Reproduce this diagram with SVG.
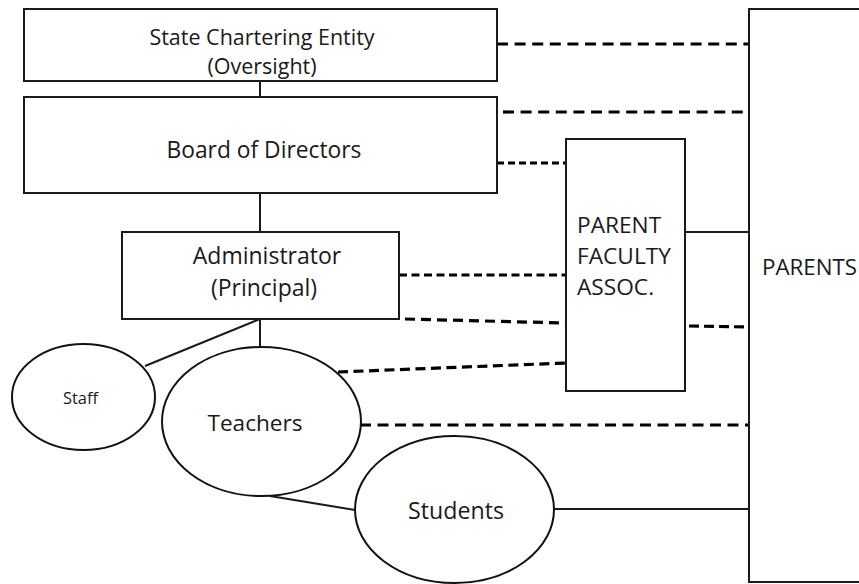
<svg xmlns="http://www.w3.org/2000/svg" width="859" height="584" viewBox="0 0 859 584">
<style>
.box{fill:#fff;stroke:#1a1a1a;stroke-width:2}
.ell{fill:#fff;stroke:#111;stroke-width:2}
.solid{stroke:#1a1a1a;stroke-width:2;fill:none}
.dash{stroke:#000;stroke-width:3.2;fill:none}
text{font-family:"Open Sans","Liberation Sans",sans-serif;fill:#1a1a1a}
.c{text-anchor:middle}
</style>
<rect width="859" height="584" fill="#fff"/>
<g id="connectors">
<line class="solid" x1="260" y1="81" x2="260" y2="97"/>
<line class="solid" x1="260" y1="193" x2="260" y2="232"/>
<line class="solid" x1="260" y1="319" x2="260" y2="347"/>
<line class="solid" x1="260" y1="319" x2="145" y2="366"/>
<line class="solid" x1="270" y1="496" x2="355" y2="510"/>
<line class="solid" x1="685" y1="232" x2="749" y2="232"/>
<line class="solid" x1="554" y1="509" x2="749" y2="509"/>
<line class="dash" x1="497" y1="44" x2="749" y2="44" stroke-dasharray="11 6.6"/>
<line class="dash" x1="503" y1="112" x2="749" y2="112" stroke-dasharray="11 6.6"/>
<line class="dash" x1="497" y1="163" x2="566" y2="163" stroke-dasharray="7 4"/>
<line class="dash" x1="399" y1="275" x2="566" y2="275" stroke-dasharray="8 4.5"/>
<line class="dash" x1="405" y1="319" x2="566" y2="323" stroke-dasharray="10 6"/>
<line class="dash" x1="689" y1="326" x2="749" y2="327" stroke-dasharray="10 5"/>
<line class="dash" x1="338" y1="372" x2="566" y2="363" stroke-dasharray="10 5.5"/>
<line class="dash" x1="360" y1="425" x2="749" y2="425" stroke-dasharray="11 6.5"/>
</g>
<g id="state">
<rect class="box" x="24" y="9" width="473" height="72"/>
<text class="c" x="262" y="45" font-size="21.5">State Chartering Entity</text>
<text class="c" x="262" y="74" font-size="21.5">(Oversight)</text>
</g>
<g id="board">
<rect class="box" x="24" y="97" width="473" height="96"/>
<text class="c" x="264" y="158" font-size="22.8">Board of Directors</text>
</g>
<g id="admin">
<rect class="box" x="122" y="232" width="277" height="87"/>
<text class="c" x="267" y="264" font-size="23">Administrator</text>
<text class="c" x="264" y="296" font-size="23">(Principal)</text>
</g>
<g id="pfa">
<rect class="box" x="566" y="139" width="119" height="252"/>
<text x="577" y="233" font-size="22.7">PARENT</text>
<text x="577" y="264" font-size="22.7">FACULTY</text>
<text x="577" y="295" font-size="22.7">ASSOC.</text>
</g>
<g id="parents">
<rect class="box" x="749" y="9" width="200" height="573"/>
<text x="762" y="275" font-size="22.3">PARENTS</text>
</g>
<g id="staff">
<ellipse class="ell" cx="83.5" cy="397" rx="71.5" ry="53"/>
<text class="c" x="80.5" y="404" font-size="16.4">Staff</text>
</g>
<g id="teachers">
<ellipse class="ell" cx="261.5" cy="421.5" rx="99.5" ry="74.5"/>
<text class="c" x="255" y="431" font-size="22.6">Teachers</text>
</g>
<g id="students">
<ellipse class="ell" cx="454.5" cy="509.5" rx="99.5" ry="73.5"/>
<text class="c" x="456" y="519" font-size="23.2">Students</text>
</g>
</svg>
